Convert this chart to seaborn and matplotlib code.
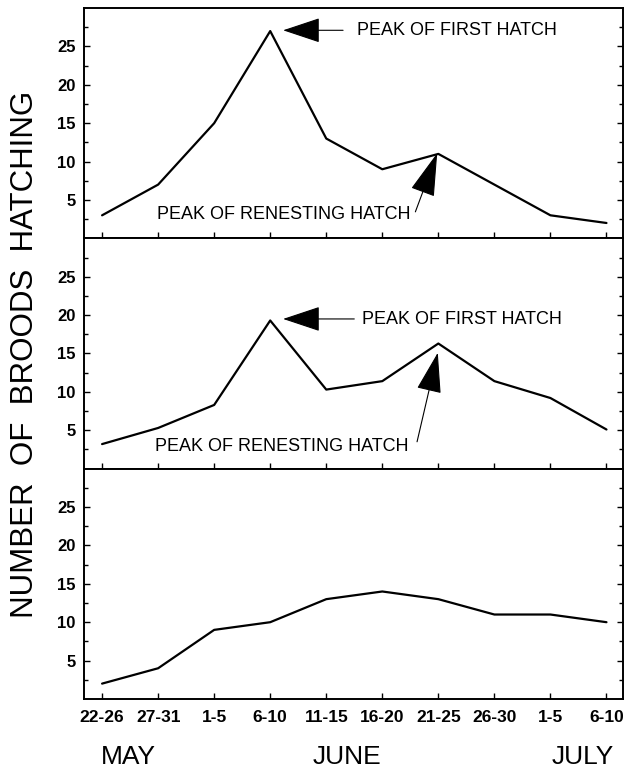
import numpy as np
import pandas as pd
import seaborn as sns
import matplotlib
matplotlib.use('Agg')
import matplotlib.pyplot as plt

# Data
periods = ['22-26', '27-31', '1-5', '6-10', '11-15', '16-20', '21-25', '26-30', '1-5', '6-10']
months = ['MAY', 'JUNE', 'JULY']
panel_top = [3, 7, 15, 27, 13, 9, 11, 7, 3, 2]
panel_mid = [3.2, 5.3, 8.3, 19.3, 10.3, 11.4, 16.3, 11.4, 9.2, 5.1]
panel_bot = [2, 4, 9, 10, 13, 14, 13, 11, 11, 10]

sns.set_style('ticks')
plt.rcParams['font.family'] = ['Liberation Sans', 'DejaVu Sans']
plt.rcParams['text.color'] = 'black'
plt.rcParams['xtick.color'] = 'black'
plt.rcParams['ytick.color'] = 'black'

fig, axes = plt.subplots(3, 1, figsize=(6.28, 7.72), dpi=100, sharex=True)
fig.subplots_adjust(left=0.134, right=0.9925, top=0.9896, bottom=0.0946, hspace=0)

pos = np.arange(len(periods))
for ax, vals in zip(axes, [panel_top, panel_mid, panel_bot]):
    df = pd.DataFrame({'pos': pos, 'n': vals})
    sns.lineplot(data=df, x='pos', y='n', ax=ax, color='black', linewidth=1.6)
    ax.set_xlim(-0.32, 9.3)
    ax.set_ylim(0, 30)
    ax.set_yticks([5, 10, 15, 20, 25])
    ax.set_yticks(np.arange(2.5, 30, 2.5), minor=True)
    ax.set_xticks(pos)
    ax.set_xlabel('')
    ax.set_ylabel('')
    ax.tick_params(axis='y', which='major', direction='in', length=4, width=1,
                   labelsize=12, right=True, pad=6)
    ax.tick_params(axis='y', which='minor', direction='in', length=3, width=1, right=True)
    ax.tick_params(axis='x', direction='in', length=4, width=1, labelsize=12.5, pad=8)
    for lab in ax.get_yticklabels():
        lab.set_fontweight('bold')
    for s in ax.spines.values():
        s.set_visible(True)
        s.set_linewidth(1.4)
        s.set_color('black')

axes[2].set_xticklabels(periods, fontweight='bold')

head = dict(facecolor='black', edgecolor='black', lw=0.8, shrinkA=0, shrinkB=0)

# top panel annotations
axes[0].annotate('', xy=(3.23, 27.1), xytext=(4.3, 27.1),
                 arrowprops=dict(arrowstyle='-|>,head_length=1.2,head_width=0.4',
                                 mutation_scale=20, **head))
axes[0].text(4.55, 27.1, 'PEAK OF FIRST HATCH', fontsize=13, va='center', ha='left')
axes[0].annotate('', xy=(5.98, 11.1), xytext=(5.59, 3.45),
                 arrowprops=dict(arrowstyle='-|>,head_length=1.4,head_width=0.4',
                                 mutation_scale=20, **head))
axes[0].text(0.98, 3.1, 'PEAK OF RENESTING HATCH', fontsize=13, va='center', ha='left')

# middle panel annotations
axes[1].annotate('', xy=(3.23, 19.5), xytext=(4.5, 19.5),
                 arrowprops=dict(arrowstyle='-|>,head_length=1.2,head_width=0.4',
                                 mutation_scale=20, **head))
axes[1].text(4.64, 19.4, 'PEAK OF FIRST HATCH', fontsize=13, va='center', ha='left')
axes[1].annotate('', xy=(5.99, 15.1), xytext=(5.62, 3.5),
                 arrowprops=dict(arrowstyle='-|>,head_length=1.3,head_width=0.4',
                                 mutation_scale=20, **head))
axes[1].text(0.95, 2.9, 'PEAK OF RENESTING HATCH', fontsize=13, va='center', ha='left')

fig.text(0.04, 0.5415, 'NUMBER  OF  BROODS  HATCHING', rotation=90, fontsize=22.5,
         ha='center', va='center')

for m, x in zip(months, [0.204, 0.553, 0.928]):
    fig.text(x, 0.0194, m, fontsize=19, ha='center', va='center')

fig.savefig('out.png', dpi=100)
